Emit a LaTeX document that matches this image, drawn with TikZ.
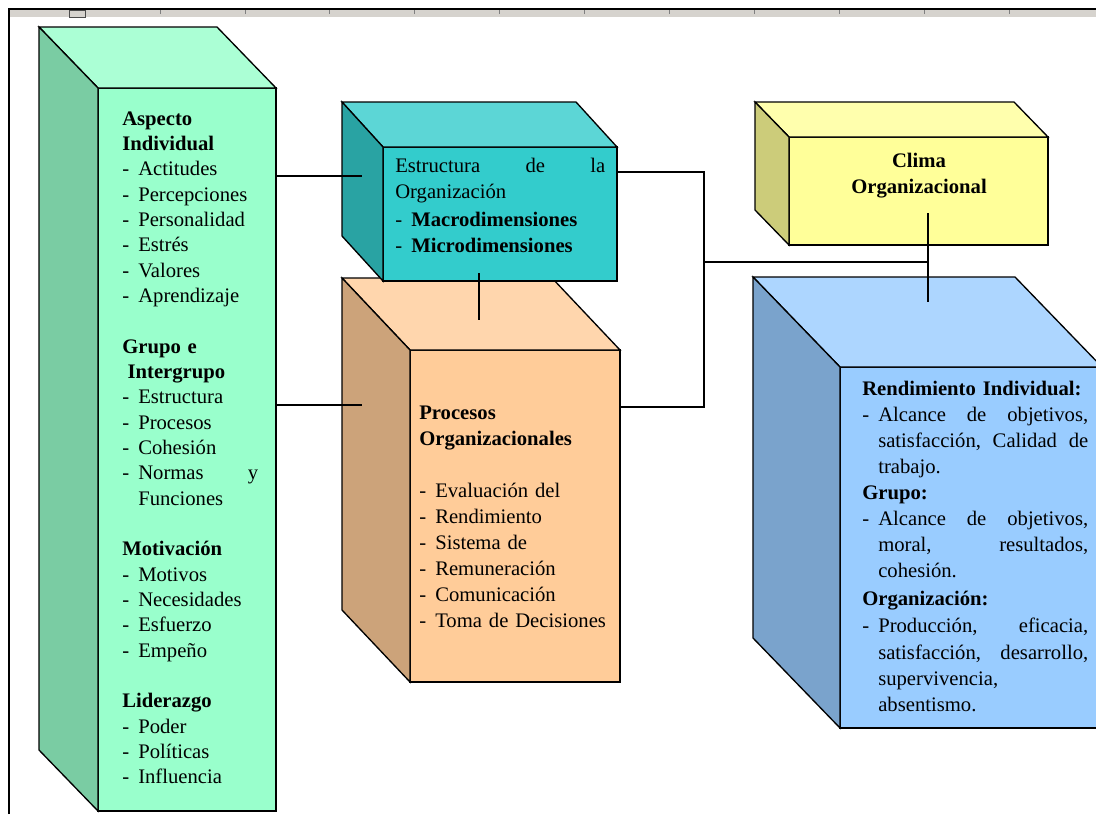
\documentclass[tikz,border=0pt]{standalone}
\usepackage{fontspec}
\setmainfont{Liberation Serif}
\usetikzlibrary{calc,fit}

\definecolor{rulergray}{HTML}{D6D3CE}
\definecolor{indF}{HTML}{99FFCC}
\definecolor{indT}{HTML}{ABFFD5}
\definecolor{indS}{HTML}{7ACCA3}
\definecolor{estF}{HTML}{33CCCC}
\definecolor{estT}{HTML}{5CD6D6}
\definecolor{estS}{HTML}{29A3A3}
\definecolor{proF}{HTML}{FFCC99}
\definecolor{proT}{HTML}{FFD6AD}
\definecolor{proS}{HTML}{CCA37A}
\definecolor{cliF}{HTML}{FFFF99}
\definecolor{cliT}{HTML}{FFFFAD}
\definecolor{cliS}{HTML}{CCCC7A}
\definecolor{renF}{HTML}{99CCFF}
\definecolor{renT}{HTML}{ADD6FF}
\definecolor{renS}{HTML}{7AA3CC}

\newcommand\itm{\makebox[12pt][l]{-}}
\newcommand\cnt{\hspace*{12pt}}
% top and side face of a box, drawn from its front node
\newcommand\cubefaces[4]{%
  \filldraw[face,fill=#3] (#1.north west) -- ++(#2) -- ($(#1.north east)+(#2)$) -- (#1.north east) -- cycle;
  \filldraw[face,fill=#4] (#1.north west) -- ++(#2) -- ($(#1.south west)+(#2)$) -- (#1.south west) -- cycle;
}

\tikzset{
  face/.style={draw=black,line width=1pt},
  front/.style={face,inner sep=0pt,outer sep=0pt},
  conn/.style={draw=black,line width=1pt},
  boxtext/.style={anchor=base west,inner sep=0pt,align=left},
}

\begin{document}
\begin{tikzpicture}[x=0.75pt,y=-0.75pt]
  \clip (0,0) rectangle (1096,814);
  \fill[white] (0,0) rectangle (1096,814);

  % ruler
  \fill[rulergray] (9,9) rectangle (1096,17);
  \draw[black,line width=0.8pt] (9,814) -- (9,9) -- (1096,9);
  \draw[black!70,fill=rulergray,line width=0.7pt] (69,10) rectangle (85,17);
  \foreach \t in {0,...,10}
    \draw[gray,line width=0.6pt] ({160+84.9*\t},10) -- ++(0,4);

  % boxes
  \node[front,fill=indF,fit={(98,88) (276,811)}] (ind) {};
  \cubefaces{ind}{-59,-61}{indT}{indS}
  \node[front,fill=proF,fit={(410,350) (620,682)}] (pro) {};
  \cubefaces{pro}{-68,-72}{proT}{proS}
  \node[front,fill=estF,fit={(383,147) (617,281)}] (est) {};
  \cubefaces{est}{-41,-45}{estT}{estS}
  \node[front,fill=cliF,fit={(789,137) (1048,245)}] (cli) {};
  \cubefaces{cli}{-34,-35}{cliT}{cliS}
  \node[front,fill=renF,fit={(840,367) (1102,728)}] (ren) {};
  \cubefaces{ren}{-87,-90}{renT}{renS}

  % connectors
  \coordinate (estside) at (362,176);
  \coordinate (proside) at (362,405);
  \coordinate (estbot) at (479,273);
  \coordinate (protop) at (479,320);
  \coordinate (ja) at (704,172);
  \coordinate (jb) at (704,407);
  \coordinate (jc) at (704,262);
  \coordinate (jd) at (928,262);
  \coordinate (cliin) at (928,213);
  \coordinate (renin) at (928,302);
  \path[conn] (ind.east |- estside) -- (estside);
  \path[conn] (ind.east |- proside) -- (proside);
  \path[conn] (estbot) -- (protop);
  \path[conn] (est.east |- ja) -- (ja) -- (jb) -- (pro.east |- jb);
  \path[conn] (jc) -- (jd);
  \path[conn] (cliin) -- (renin);

  % texts
  \node[boxtext,text width=102pt,font=\fontsize{15.5}{19}\selectfont] (indtxt) at (122,125) {%
    \textbf{Aspecto}\\
    \textbf{Individual}\\
    \itm Actitudes\\
    \itm Percepciones\\
    \itm Personalidad\\
    \itm Estrés\\
    \itm Valores\\
    \itm Aprendizaje\\[19pt]
    \textbf{Grupo e}\\
    \hspace*{4pt}\textbf{Intergrupo}\\
    \itm Estructura\\
    \itm Procesos\\
    \itm Cohesión\\
    \itm Normas\hfill y\\
    \cnt Funciones\\[19pt]
    \textbf{Motivación}\\
    \itm Motivos\\
    \itm Necesidades\\
    \itm Esfuerzo\\
    \itm Empeño\\[19pt]
    \textbf{Liderazgo}\\
    \itm Poder\\
    \itm Políticas\\
    \itm Influencia};
  \node[boxtext,text width=157.5pt,font=\fontsize{15.5}{19.5}\selectfont] (esttxt) at (395,172) {%
    Estructura\hfill de\hfill la\\
    Organización\\[1.5pt]
    \itm\textbf{Macrodimensiones}\\
    \itm\textbf{Microdimensiones}};
  \node[boxtext,text width=150pt,font=\fontsize{15.5}{19.5}\selectfont] (protxt) at (419,419) {%
    \textbf{Procesos}\\
    \textbf{Organizacionales}\\[19.5pt]
    \itm Evaluación del\\
    \itm Rendimiento\\
    \itm Sistema de\\
    \itm Remuneración\\
    \itm Comunicación\\
    \itm Toma de Decisiones};
  \node[anchor=base,inner sep=0pt,text width=150pt,align=center,font=\fontsize{15.5}{19.5}\selectfont\bfseries] (clitxt) at (919,167) {%
    Clima\\
    Organizacional};
  \node[boxtext,text width=169.5pt,font=\fontsize{15.5}{19.6}\selectfont] (rentxt) at (862,395) {%
    \textbf{Rendimiento Individual:}\\
    \itm Alcance\hfill de\hfill objetivos,\\
    \cnt satisfacción,\hfill Calidad\hfill de\\
    \cnt trabajo.\\
    \textbf{Grupo:}\\
    \itm Alcance\hfill de\hfill objetivos,\\
    \cnt moral,\hfill resultados,\\
    \cnt cohesión.\\[1pt]
    \textbf{Organización:}\\[1pt]
    \itm Producción,\hfill eficacia,\\
    \cnt satisfacción,\hfill desarrollo,\\
    \cnt supervivencia,\\
    \cnt absentismo.};
\end{tikzpicture}
\end{document}
